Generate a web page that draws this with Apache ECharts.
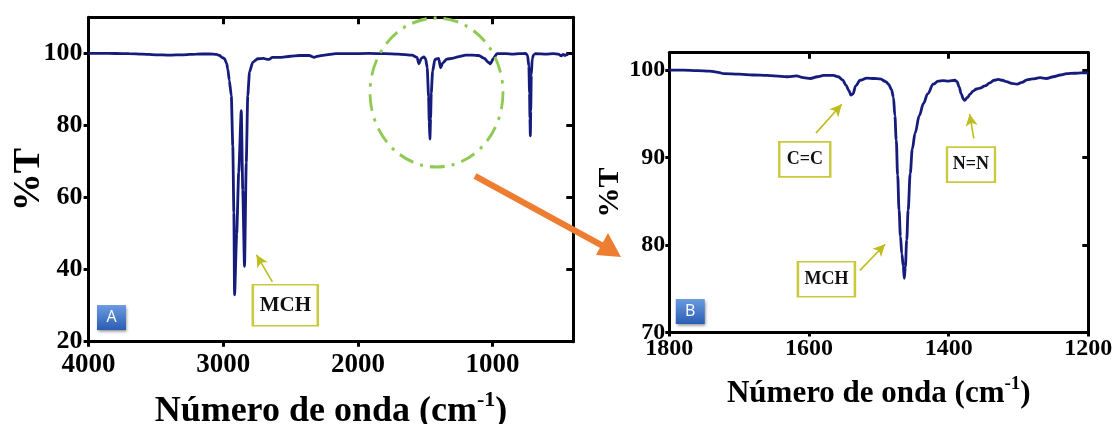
<!DOCTYPE html>
<html>
<head>
<meta charset="utf-8">
<script src="https://cdn.jsdelivr.net/npm/echarts@6/dist/echarts.min.js"></script>
<style>
  html, body { margin: 0; padding: 0; background: #fff; }
  #chart { width: 1113px; height: 424px; }
</style>
</head>
<body>
<div id="chart"></div>
<script>
// Panel A: full FTIR spectrum, wavenumber (cm-1) and % transmittance
const wavenumberA = [4000, 3900, 3800, 3700, 3600, 3500, 3400, 3300, 3200, 3100, 3050, 3027, 3010, 2990, 2975, 2966, 2955,
  2940, 2929, 2921, 2916, 2900, 2885, 2866, 2855, 2842, 2829, 2818, 2805, 2781, 2744, 2700, 2681, 2660, 2635, 2583,
  2500, 2435, 2361, 2324, 2300, 2250, 2163, 2065, 1917, 1800, 1700, 1598, 1561, 1546, 1530, 1510, 1497, 1485, 1475,
  1470, 1465, 1460, 1455, 1445, 1428, 1400, 1386, 1370, 1340, 1300, 1250, 1200, 1150, 1102, 1060, 1035, 1015, 995,
  967, 900, 850, 800, 756, 740, 730, 725, 722, 719, 716, 712, 705, 695, 682, 600, 550, 510, 490, 475, 460, 445, 435];
const transmittanceA = [100.0, 100.0, 99.95, 99.9, 99.8, 99.6, 99.5, 99.6, 99.8, 99.85, 99.7, 99.4, 98.9, 98.5, 97.2, 95.7, 92.5,
  88.2, 74.3, 55.8, 33.0, 50.0, 67.0, 84.1, 62.0, 40.9, 69.7, 88.2, 94.8, 97.5, 98.5, 98.6, 98.4, 98.3, 98.9, 98.9,
  99.2, 99.4, 99.4, 98.9, 99.2, 99.5, 99.9, 99.9, 100.0, 99.9, 99.8, 99.5, 98.9, 97.1, 98.6, 99.0, 98.5, 96.0, 88.0,
  81.0, 76.2, 82.0, 89.0, 95.0, 98.3, 98.6, 96.0, 97.3, 98.4, 98.6, 99.1, 99.5, 99.5, 99.4, 98.6, 97.6, 97.1, 98.5,
  99.9, 99.9, 99.8, 99.9, 100.0, 99.5, 96.5, 89.0, 82.0, 77.1, 84.0, 94.0, 98.5, 99.6, 99.9, 99.8, 99.9, 99.8, 99.3, 99.7, 99.4, 99.8, 99.5];

// Panel B: enlarged 1800-1200 cm-1 region
const wavenumberB = [1800, 1780, 1760, 1742, 1730, 1722, 1700, 1680, 1660, 1640, 1630, 1618, 1608, 1598, 1588, 1579, 1565,
  1558, 1552, 1547, 1543, 1540, 1537, 1533, 1527, 1517, 1507, 1498, 1490, 1486, 1482, 1479, 1477, 1475, 1473, 1471,
  1469, 1467, 1465, 1463.5, 1462, 1460, 1458, 1455, 1452, 1448, 1442, 1436, 1430, 1422, 1415, 1408, 1400, 1391, 1388,
  1385, 1382, 1379, 1377, 1373, 1369, 1365, 1360, 1355, 1348, 1341, 1335, 1329, 1323, 1317, 1310, 1302, 1295, 1288,
  1280, 1269, 1260, 1250, 1240, 1231, 1220, 1210, 1200];
const transmittanceB = [100.0, 100.0, 99.95, 99.9, 99.75, 99.6, 99.55, 99.45, 99.4, 99.3, 99.25, 99.35, 99.15, 99.05, 99.25, 99.4, 99.4,
  99.25, 98.9, 98.3, 97.7, 97.15, 97.3, 98.2, 98.85, 99.1, 99.05, 99.0, 98.7, 98.4, 97.8, 96.9, 94.8, 92.0, 88.0, 84.0,
  81.0, 79.0, 77.6, 76.2, 77.5, 80.6, 84.0, 88.2, 91.0, 92.8, 94.8, 96.2, 97.3, 98.4, 98.75, 98.8, 98.75, 98.85, 98.7,
  98.1, 97.3, 96.7, 96.55, 96.9, 97.3, 97.6, 97.85, 97.95, 98.2, 98.55, 98.85, 98.95, 98.85, 98.7, 98.5, 98.4, 98.6, 98.9,
  99.0, 99.15, 99.05, 99.25, 99.45, 99.6, 99.65, 99.7, 99.7];

// Tick labels
const xTicksA = [4000, 3000, 2000, 1000];
const yTicksA = [20, 40, 60, 80, 100];
const xTicksB = [1800, 1600, 1400, 1200];
const yTicksB = [70, 80, 90, 100];

// Band assignments: [label, box anchor (x, y), arrow start, arrow tip]
const bandsA = [
  ['MCH', [2539, 30.1], [2635, 36.6], [2753, 44.1]]
];
const bandsB = [
  ['C=C', [1606, 89.8], [1590, 92.8], [1553, 96.1]],
  ['MCH', [1575, 76.1], [1527, 77.1], [1491, 80.1]],
  ['N=N', [1368, 89.2], [1364, 92.2], [1370, 95.0]]
];
const panelTags = [['A', [3830, 26.7]], ['B', [1770, 72.4]]];

const SERIF = "'Liberation Serif', 'Times New Roman', serif";
const LINE = '#161c7c';
const OLIVE = '#bdbd1e';

function xTitle(size, supSize) {
  return {
    name: '{a|Número de onda (cm}{b|-1}{a|)}',
    nameLocation: 'middle',
    nameMoveOverlap: false,
    nameTextStyle: {
      rich: {
        a: { fontFamily: SERIF, fontWeight: 'bold', fontSize: size, color: '#000', lineHeight: size + 4, verticalAlign: 'bottom' },
        b: { fontFamily: SERIF, fontWeight: 'bold', fontSize: supSize, color: '#000', lineHeight: supSize, verticalAlign: 'top' }
      }
    }
  };
}

function frameAxis(grid, extra) {
  return Object.assign({
    gridIndex: grid,
    type: 'value',
    axisLine: { show: true, onZero: false, lineStyle: { color: '#000', width: 3 } },
    splitLine: { show: false }
  }, extra);
}

function tickStyle(values, inside, length) {
  return { show: true, inside: inside, length: length, customValues: values, lineStyle: { color: '#000', width: 3 } };
}

function labelStyle(values, size, margin) {
  return {
    show: true, customValues: values, formatter: v => String(v),
    fontFamily: SERIF, fontWeight: 'bold', fontSize: size, color: '#000', margin: margin
  };
}

function bandMarks(bands, fontSize, boxW, boxH) {
  return {
    points: bands.map((b, i) => ({
      coord: b[1], symbol: 'rect', symbolSize: [boxW[i], boxH],
      itemStyle: { color: '#fff', borderColor: '#c9c93c', borderWidth: 2 },
      label: { show: true, position: 'inside', formatter: b[0], fontFamily: SERIF, fontWeight: 'bold', fontSize: fontSize, color: '#111' }
    })),
    lines: bands.map(b => [{ coord: b[2] }, { coord: b[3] }])
  };
}

function tagPoint(tag) {
  return {
    coord: tag[1], symbol: 'rect', symbolSize: [29, 25],
    itemStyle: {
      color: new echarts.graphic.LinearGradient(0, 0, 0, 1, [
        { offset: 0, color: '#6a9be0' }, { offset: 1, color: '#2c5db3' }
      ]),
      shadowBlur: 3, shadowColor: 'rgba(0,0,0,0.45)', shadowOffsetX: 1, shadowOffsetY: 2
    },
    label: { show: true, position: 'inside', formatter: tag[0], fontFamily: "'Open Sans', sans-serif", fontSize: 16, color: '#fff' }
  };
}

const marksA = bandMarks(bandsA, 21, [65], 41);
const marksB = bandMarks(bandsB, 18, [51, 57, 48], 35);

function spectrum(xi, yi, xs, ys, marks, tag, smooth, width) {
  return {
    type: 'line', xAxisIndex: xi, yAxisIndex: yi,
    data: xs.map((w, i) => [w, ys[i]]),
    showSymbol: false, smooth: smooth, smoothMonotone: 'x',
    lineStyle: { color: LINE, width: width },
    silent: true, z: 3,
    markLine: {
      silent: true, symbol: ['none', 'arrow'], symbolSize: [9, 12],
      lineStyle: { color: OLIVE, width: 1.6, type: 'solid' },
      label: { show: false },
      data: marks.lines
    },
    markPoint: { silent: true, data: marks.points.concat([tagPoint(tag)]) }
  };
}

const chart = echarts.init(document.getElementById('chart'), null, { renderer: 'canvas' });

chart.setOption({
  animation: false,
  backgroundColor: '#fff',
  grid: [
    { left: 88.6, top: 17.3, width: 484.7, height: 324.4, outerBoundsMode: 'none', containLabel: false },
    { left: 669.3, top: 52.7, width: 419, height: 279.8, outerBoundsMode: 'none', containLabel: false }
  ],
  xAxis: [
    frameAxis(0, Object.assign({
      position: 'bottom', inverse: true, min: 400, max: 4000, nameGap: 48,
      axisTick: tickStyle(xTicksA, false, 5), axisLabel: labelStyle(xTicksA, 27, 10)
    }, xTitle(36, 22))),
    frameAxis(0, {
      position: 'top', inverse: true, min: 400, max: 4000,
      axisTick: tickStyle(xTicksA, true, 7), axisLabel: { show: false }
    }),
    frameAxis(1, Object.assign({
      position: 'bottom', inverse: true, min: 1200, max: 1800, nameGap: 42,
      axisTick: tickStyle(xTicksB, false, 4), axisLabel: labelStyle(xTicksB, 24, 4)
    }, xTitle(31, 19))),
    frameAxis(1, {
      position: 'top', inverse: true, min: 1200, max: 1800,
      axisTick: tickStyle(xTicksB, true, 6), axisLabel: { show: false }
    })
  ],
  yAxis: [
    frameAxis(0, {
      position: 'left', min: 20, max: 110,
      axisTick: tickStyle(yTicksA, false, 5), axisLabel: labelStyle(yTicksA, 26, 6),
      name: '%T', nameLocation: 'middle', nameGap: 40, nameMoveOverlap: false,
      nameTextStyle: { fontFamily: SERIF, fontWeight: 'bold', fontSize: 38, color: '#000' }
    }),
    frameAxis(0, {
      position: 'right', min: 20, max: 110,
      axisTick: tickStyle(yTicksA, true, 7), axisLabel: { show: false }
    }),
    frameAxis(1, {
      position: 'left', min: 70, max: 102,
      axisTick: tickStyle(yTicksB, false, 4), axisLabel: labelStyle(yTicksB, 24, 4),
      name: '%T', nameLocation: 'middle', nameGap: 44, nameMoveOverlap: false,
      nameTextStyle: { fontFamily: SERIF, fontWeight: 'bold', fontSize: 30, color: '#000' }
    }),
    frameAxis(1, {
      position: 'right', min: 70, max: 102,
      axisTick: tickStyle(yTicksB, true, 6), axisLabel: { show: false }
    })
  ],
  series: [
    spectrum(0, 0, wavenumberA, transmittanceA, marksA, panelTags[0], 0.2, 2.8),
    spectrum(2, 2, wavenumberB, transmittanceB, marksB, panelTags[1], 0.35, 2.8)
  ],
  graphic: [
    // dash-dot ellipse around the fingerprint bands of panel A
    {
      type: 'circle', x: 436.5, y: 92.5, scaleY: 1.12, z: 10, silent: true,
      shape: { cx: 0, cy: 0, r: 66.5 },
      style: { fill: 'none', stroke: '#8fca52', lineWidth: 2.8, lineDash: [15, 7, 3, 7] }
    },
    // orange pointer from panel A to panel B
    {
      type: 'line', z: 10, silent: true,
      shape: { x1: 475, y1: 176, x2: 603, y2: 246 },
      style: { stroke: '#ed7d31', lineWidth: 6 }
    },
    {
      type: 'polygon', z: 10, silent: true,
      shape: { points: [[621, 257], [596, 255], [608, 233]] },
      style: { fill: '#ed7d31' }
    }
  ]
});
</script>
</body>
</html>
